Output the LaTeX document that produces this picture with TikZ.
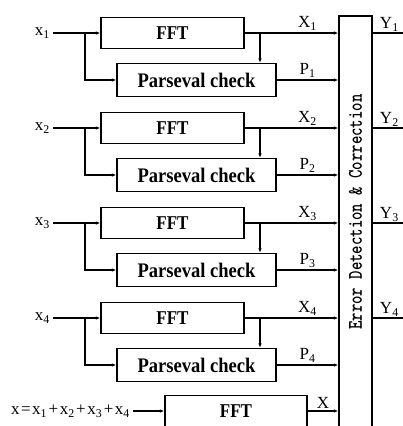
\documentclass[tikz,border=0pt]{standalone}
\usepackage{fontspec}
\setmainfont{Liberation Serif}
\usetikzlibrary{arrows.meta}
\newcommand{\kk}{\kern1.5pt}
\begin{document}
\begin{tikzpicture}[x=1pt,y=-1pt,
  blk/.style={draw, line width=1.3pt, minimum height=31pt, inner sep=0pt,
    font=\fontsize{17}{17}\selectfont\bfseries},
  parb/.style={draw, line width=1.3pt, minimum height=33pt, inner sep=0pt,
    font=\fontsize{18}{18}\selectfont\bfseries},
  conn/.style={line width=1.1pt},
  arr/.style={conn, -{Latex[length=4.5pt,width=3.5pt]}},
  lbl/.style={font=\fontsize{17}{17}\selectfont, inner sep=1pt},
  inl/.style={font=\fontsize{17}{17}\selectfont, inner sep=3pt, anchor=east}
]
\useasboundingbox (0,0) rectangle (403,426);
\clip (0,0) rectangle (403,426);
\node[draw, line width=1.3pt, minimum width=33pt, minimum height=424pt, inner sep=0pt] (ed) at (355.5,228) {};
\node[rotate=90, inner sep=0pt, font=\fontsize{16}{16}\selectfont\ttfamily\bfseries] (edt) at (355.5,212)
  {\scalebox{1}[1.3]{Error Detection \& Correction}};
\foreach \i/\y in {1/33,2/128,3/223,4/318}{
  \node[inl] (x\i) at (53,\y) {x\textsubscript{\i}};
  \node[blk, minimum width=143pt] (f\i) at (172.5,\y) {\scalebox{1}[1.15]{FFT}};
  \node[parb, minimum width=159pt] (p\i) at (196.5,\y+47) {\scalebox{1.03}[1.15]{Parseval check}};
  \coordinate (b\i) at (85,\y);
  \coordinate (s\i) at (260,\y);
  \coordinate (y\i) at (403,\y);
  \draw[arr] (f\i.west -| x\i.east) -- (f\i.west);
  \draw[arr] (b\i) |- (p\i.west);
  \draw[arr] (f\i.east) -- (f\i.east -| ed.west) node[lbl, pos=0.67, above=1pt] {X\textsubscript{\i}};
  \draw[arr] (s\i) -- (s\i |- p\i.north);
  \draw[arr] (p\i.east) -- (p\i.east -| ed.west) node[lbl, midway, above=1pt] {P\textsubscript{\i}};
  \draw[conn] (ed.east |- y\i) -- (y\i) node[lbl, pos=0.55, above=0pt] {Y\textsubscript{\i}};
}
\node[inl] (xs) at (133,411) {x\kk=\kk x\textsubscript{1}\kk+\kk x\textsubscript{2}\kk+\kk x\textsubscript{3}\kk+\kk x\textsubscript{4}};
\node[blk, minimum width=142pt] (f5) at (236,411) {\scalebox{1}[1.15]{FFT}};
\draw[arr] (f5.west -| xs.east) -- (f5.west);
\draw[arr] (f5.east) -- (f5.east -| ed.west) node[lbl, midway, above=1pt] {X};
\end{tikzpicture}
\end{document}
